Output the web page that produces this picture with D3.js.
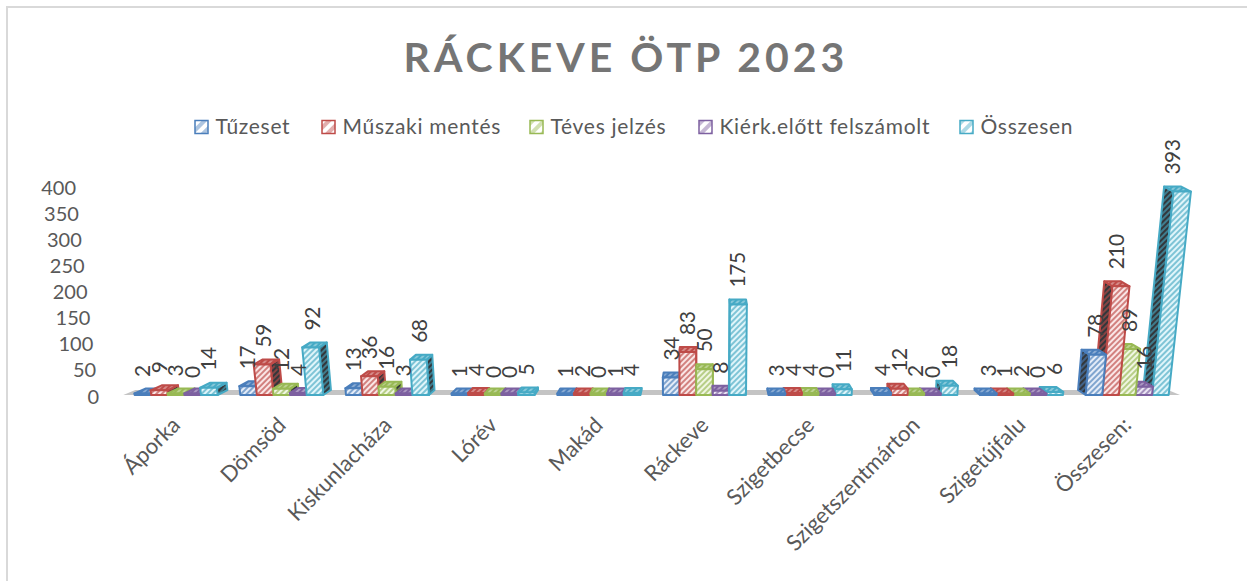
<!DOCTYPE html>
<html>
<head>
<meta charset="utf-8">
<script src="https://cdn.jsdelivr.net/npm/d3@7"></script>
<style>
  body { margin: 0; background: #fff; overflow: hidden; }
  text { font-family: Lato, "Open Sans", sans-serif; }
</style>
</head>
<body>
<div id="chart"></div>
<script>
// values
const titleText = "RÁCKEVE ÖTP 2023";
const categories = ["Áporka", "Dömsöd", "Kiskunlacháza", "Lórév", "Makád", "Ráckeve", "Szigetbecse", "Szigetszentmárton", "Szigetújfalu", "Összesen:"];
const seriesNames = ["Tűzeset", "Műszaki mentés", "Téves jelzés", "Kiérk.előtt felszámolt", "Összesen"];
const tuzeset = [2, 17, 13, 1, 1, 34, 3, 4, 3, 78];
const muszaki = [9, 59, 36, 4, 2, 83, 4, 12, 1, 210];
const teves = [3, 12, 16, 0, 0, 50, 4, 2, 2, 89];
const kierk = [0, 4, 3, 0, 1, 8, 0, 0, 0, 16];
const osszesen = [14, 92, 68, 5, 4, 175, 11, 18, 6, 393];
const yTicks = [0, 50, 100, 150, 200, 250, 300, 350, 400];
const seriesValues = [tuzeset, muszaki, teves, kierk, osszesen];
const colors = ["#4a7ebb", "#be4b48", "#98b954", "#7d60a0", "#46aac5"];
const tints = ["#e4ecf8", "#fae6e6", "#f0f6e2", "#eae4f3", "#e0f5fa"];

const W = 1247, H = 581;
const svg = d3.select("#chart").append("svg").attr("width", W).attr("height", H);

// chart frame, only top and left show in the crop
svg.append("path").attr("d", "M7,581V7H1247").attr("fill", "none")
  .attr("stroke", "#d9d9d9").attr("stroke-width", 2);

// hatch patterns, one set per series
const defs = svg.append("defs");
function hatch(id, bg, fg, size) {
  const p = defs.append("pattern").attr("id", id).attr("patternUnits", "userSpaceOnUse")
    .attr("width", size).attr("height", size).attr("patternTransform", "rotate(45)");
  p.append("rect").attr("width", size).attr("height", size).attr("fill", bg);
  p.append("rect").attr("width", size / 2).attr("height", size).attr("fill", fg);
}
colors.forEach(function(c, i) {
  hatch("front" + i, tints[i], d3.interpolateRgb(c, "#fff")(0.3), 4);
  hatch("side" + i, "#33373b", d3.interpolateRgb(c, "#33373b")(0.4), 4);
  hatch("top" + i, d3.interpolateRgb(c, "#fff")(0.35), c, 4);
  hatch("swatch" + i, d3.interpolateRgb(c, "#fff")(0.55), "#fff", 8);
});

const x = d3.scaleBand().domain(categories).range([123.3, 1180]);
const x1 = d3.scaleBand().domain(d3.range(seriesNames.length)).range([x.bandwidth() / 2 - 41.5, x.bandwidth() / 2 + 41.5]);
const y = d3.scaleLinear().domain([0, 400]).range([395, 188]);
const yLabel = d3.scaleLinear().domain([0, 400]).range([396, 187]);

// fake 3D: vanishing point around Ráckeve, bars lean away from it with height
const vanish = 705, lean = 0.000122, depth = 0.02, depthUp = 5;
function leanX(px, v) { return px + v * lean * (px - vanish); }

// floor
const floor = d3.line();
svg.append("path")
  .attr("d", floor([[x.range()[0], y(0)], [x.range()[0] + 12, y(0) - 5], [x.range()[1] - 12, y(0) - 5], [x.range()[1], y(0)]]) + "Z")
  .attr("fill", "#c4c4c4");

// y axis, no line, labels slide right towards the floor
const yAxis = svg.append("g")
  .call(d3.axisLeft(yLabel).tickValues(yTicks).tickSize(0));
yAxis.select(".domain").remove();
yAxis.selectAll("text")
  .attr("x", function(d) { return 76 + (400 - d) * 0.0575; })
  .attr("fill", "#595959").style("font-size", "20px").attr("dy", "0.35em");

// bars: side and top faces first, then front
categories.forEach(function(cat, ci) {
  const g = svg.append("g");
  const order = d3.range(seriesNames.length);
  // bars right of the vanishing point overlap leftwards
  if (x(cat) + x.bandwidth() / 2 > vanish) order.reverse();
  order.forEach(function(si) {
    const v = seriesValues[si][ci];
    const x0 = x(cat) + x1(si), x2 = x0 + x1.bandwidth();
    const minH = 1.5;
    const yb = y(0), yt = Math.min(y(v), yb - minH);
    const fl = leanX(x0, v), fr = leanX(x2, v);
    const dl = depth * (vanish - fl), dr = depth * (vanish - fr);
    const dlb = depth * (vanish - x0), drb = depth * (vanish - x2);
    const line = d3.line();
    const face = function(pts, fill) {
      g.append("path").attr("d", line(pts) + "Z").attr("fill", fill)
        .attr("stroke", colors[si]).attr("stroke-width", 2).attr("stroke-linejoin", "round");
    };
    // side face towards the vanishing point
    if (x0 + x1.bandwidth() / 2 > vanish) {
      face([[x0, yb], [x0 + dlb, yb - depthUp], [fl + dl, yt - depthUp], [fl, yt]], "url(#side" + si + ")");
    } else {
      face([[x2, yb], [x2 + drb, yb - depthUp], [fr + dr, yt - depthUp], [fr, yt]], "url(#side" + si + ")");
    }
    face([[fl, yt], [fl + dl, yt - depthUp], [fr + dr, yt - depthUp], [fr, yt]], "url(#top" + si + ")");
    face([[x0, yb], [fl, yt], [fr, yt], [x2, yb]], "url(#front" + si + ")");
  });
});

// data labels on top of everything
categories.forEach(function(cat, ci) {
  seriesNames.forEach(function(name, si) {
    const v = seriesValues[si][ci];
    const cx = x(cat) + x1(si) + x1.bandwidth() / 2;
    const lx = cx + v * 0.000066 * (cx - vanish);
    const ly = y(v) - 17;
    svg.append("text")
      .attr("transform", "translate(" + lx + "," + ly + ") rotate(-90)")
      .attr("dy", "0.35em")
      .attr("fill", "#404040")
      .style("font-size", "21px")
      .style("letter-spacing", "-0.5px")
      .text(v);
  });
});

// category labels
categories.forEach(function(cat) {
  const cx = x(cat) + x.bandwidth() / 2;
  svg.append("text")
    .attr("transform", "translate(" + cx + ",421) rotate(-45)")
    .attr("text-anchor", "end")
    .attr("dy", "0.35em")
    .attr("fill", "#595959")
    .style("font-size", "22px")
    .text(cat);
});

// title
svg.append("text").attr("x", 626).attr("y", 72).attr("text-anchor", "middle")
  .attr("fill", "#757575").style("font-size", "41px").style("font-weight", "bold")
  .style("letter-spacing", "4px").text(titleText);

// legend
const legendX = [195, 322, 530, 699, 960];
seriesNames.forEach(function(name, i) {
  svg.append("rect").attr("x", legendX[i]).attr("y", 120.5).attr("width", 13).attr("height", 13)
    .attr("fill", "url(#swatch" + i + ")").attr("stroke", colors[i]).attr("stroke-width", 1.5);
  svg.append("text").attr("x", legendX[i] + 20.5).attr("y", 134)
    .attr("fill", "#595959").style("font-size", "21px").style("letter-spacing", "0.7px").text(name);
});
</script>
</body>
</html>
